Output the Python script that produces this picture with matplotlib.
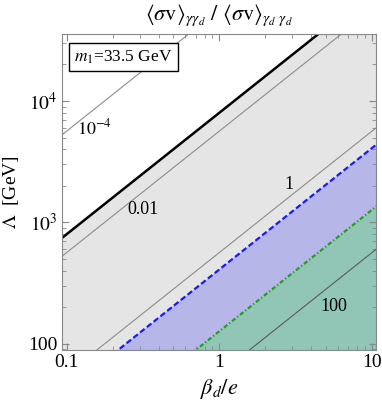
import numpy as np
import matplotlib
matplotlib.use('Agg')
import matplotlib.pyplot as plt

plt.rcParams['font.family'] = ['Liberation Serif', 'DejaVu Serif']
plt.rcParams['mathtext.fontset'] = 'stix'

# ratio contours R = (k*beta/Lambda)^2 -> Lambda = k*beta/sqrt(R)
k = 565.0
levels = [1e-4, 0.01, 1, 100]
level_labels = [r'$10^{-4}$', '0.01', '1', '100']
label_beta = [0.153, 0.316, 2.85, 5.62]
label_lam = [6000, 1268, 2035, 205]

# bound lines Lambda = c*beta
c_black = 8000.0
c_blue = 410.0
c_green = 127.0

xlim = (0.093, 10.6)
ylim = (89, 35600)

beta = np.array([0.08, 12.0])

fig = plt.figure(figsize=(3.82, 4.03), dpi=100)
ax = fig.add_axes([0.162, 0.1315, 0.822, 0.7841])

ax.fill_between(beta, 1, c_black * beta, color='#e5e5e5', lw=0)
ax.fill_between(beta, 1, c_blue * beta, color='#b6b6e8', lw=0)
ax.fill_between(beta, 1, c_green * beta, color='#91c5b6', lw=0)

for lev in levels:
    col = '#5a5a5a' if lev >= 100 else '#8c8c8c'
    ax.plot(beta, k * beta / np.sqrt(lev), color=col, lw=0.8)

ax.plot(beta, c_black * beta, color='black', lw=1.8)
ax.plot(beta, c_blue * beta, color='#1a1aff', lw=1.6, dashes=(2.6, 1.3))
ax.plot(beta, c_green * beta, color='#1fa01f', lw=1.6, dashes=(2.0, 1.0, 0.6, 1.0))

for lab, bx, ly in zip(level_labels, label_beta, label_lam):
    ax.text(bx, ly, lab, ha='center', va='center', fontsize=13)

ax.text(0.04, 0.955, r'$m_1$=33.5 GeV', transform=ax.transAxes, ha='left', va='top',
        fontsize=12.5, bbox=dict(boxstyle='square,pad=0.3', fc='white', ec='black', lw=1.0))

ax.set_xscale('log')
ax.set_yscale('log')
ax.set_xlim(*xlim)
ax.set_ylim(*ylim)
ax.set_xticks([0.1, 1, 10])
ax.set_xticklabels(['0.1', '1', '10'])
ax.set_yticks([100, 1000, 10000])
ax.set_yticklabels(['100', r'$10^3$', r'$10^4$'])
ax.tick_params(which='both', direction='in', top=True, right=True, color='#888888', labelsize=14)
ax.tick_params(which='major', length=5, pad=3)
ax.tick_params(which='minor', length=3)
for s in ax.spines.values():
    s.set_color('#888888')

ax.set_xlabel(r'$\beta_d/e$', fontsize=16)
ax.set_ylabel(r'$\Lambda$  [GeV]', fontsize=14)
ax.xaxis.set_label_coords(0.5, -0.085)
ax.yaxis.set_label_coords(-0.13, 0.5)
ax.set_title(r'$\langle\sigma \mathrm{v}\rangle_{\gamma\gamma_d}\ /\ \langle\sigma \mathrm{v}\rangle_{\gamma_d\ \gamma_d}$',
             fontsize=16, pad=10)

fig.savefig('out.png', dpi=100)
